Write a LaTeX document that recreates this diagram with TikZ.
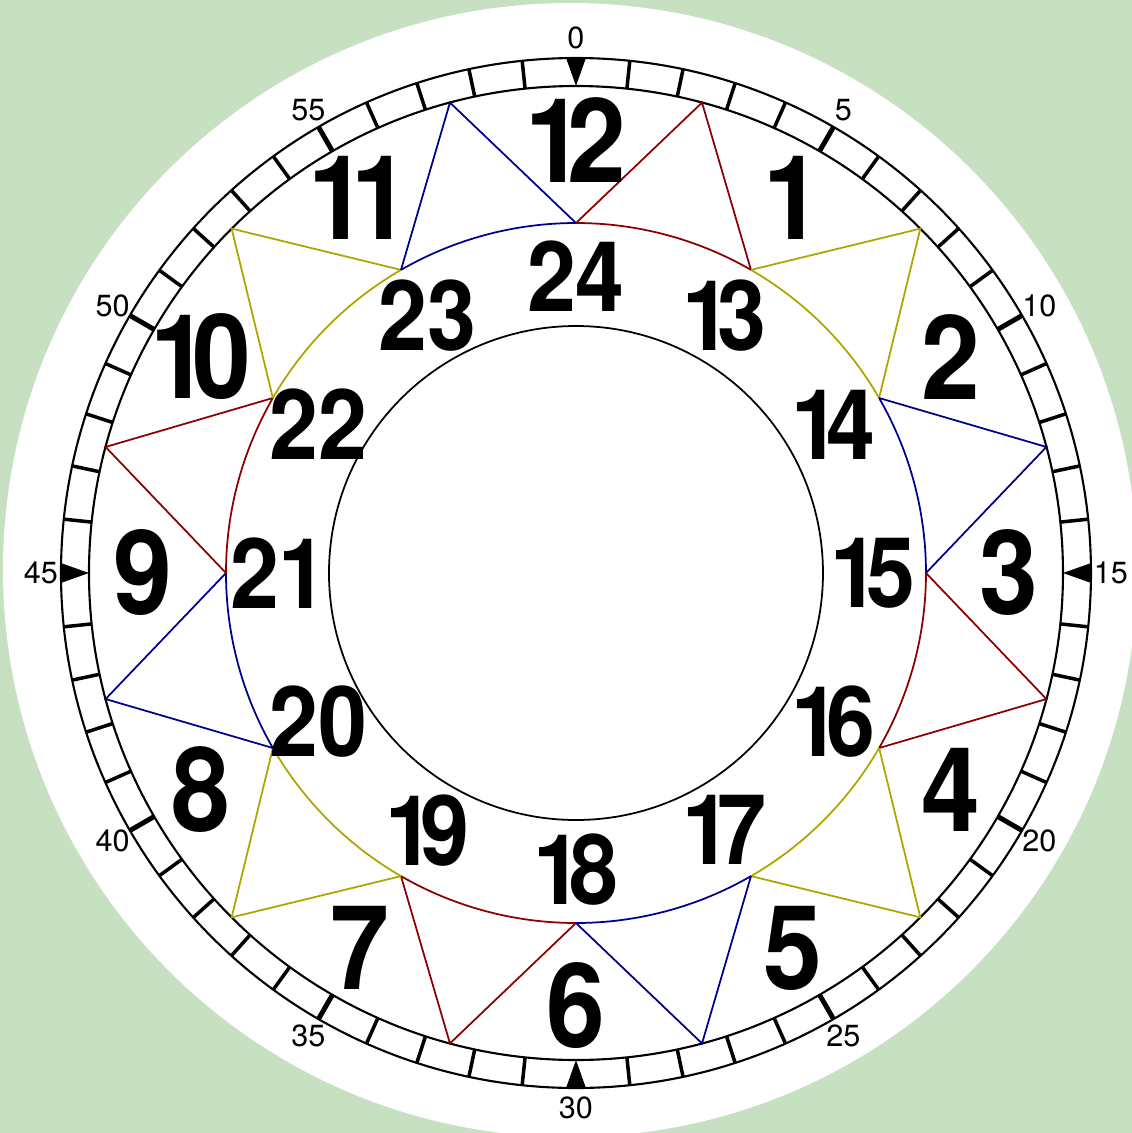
\documentclass[tikz,border=0pt]{standalone}
\usepackage{fontspec}
\setmainfont{TeX Gyre Heros}
\newfontfamily\numfont{TeX Gyre Heros}[FakeStretch=0.9]
\newcommand{\narrowone}{1\kern-0.14em}
\usetikzlibrary{calc}
\definecolor{cBack}{RGB}{198,224,193}
\definecolor{cStar0}{RGB}{140,0,0}
\definecolor{cStar1}{RGB}{175,165,0}
\definecolor{cStar2}{RGB}{0,0,140}
\tikzset{
	ring/.style     ={line width=0.6pt, draw=black},
	ticka/.style    ={line width=1.0pt},
	tickb/.style    ={line width=1.4pt},
	starline/.style ={line width=0.5pt},
	hournum/.style  ={font=\numfont\fontsize{33.4}{34}\selectfont\bfseries, inner sep=0pt},
	innernum/.style ={font=\numfont\fontsize{27.8}{28}\selectfont\bfseries, inner sep=0pt},
	minnum/.style   ={font=\fontsize{8.7}{9}\selectfont, inner sep=0pt},
}
\begin{document}
\begin{tikzpicture}
	\useasboundingbox (-5.76,-5.60) rectangle (5.56,5.73);
	\fill[cBack] (-5.76,-5.60) rectangle (5.56,5.73);
	\fill[white] (-0.06,0.03) circle (5.67);
	% minute ring
	\draw[ring] (0,0) circle (5.15) (0,0) circle (4.87);
	\foreach \m in {0,...,59}{
		\pgfmathtruncatemacro{\q}{mod(\m,15)}
		\pgfmathtruncatemacro{\f}{mod(\m,5)}
		\ifnum\q=0
			\fill ({90-6*\m+1.1}:5.15) -- ({90-6*\m-1.1}:5.15) -- ({90-6*\m}:4.87) -- cycle;
		\else\ifnum\f=0
			\draw[tickb] ({90-6*\m}:4.87) -- ({90-6*\m}:5.15);
		\else
			\draw[ticka] ({90-6*\m}:4.87) -- ({90-6*\m}:5.15);
		\fi\fi
	}
	\foreach \m in {0,5,...,55}
		\node[minnum] (m\m) at ({90-6*\m}:5.35) {\m};
	% star
	\foreach \k in {0,...,11}{
		\coordinate (in\k) at ({90-30*\k}:3.5);
		\coordinate (out\k) at ({75-30*\k}:4.87);
	}
	\foreach \k [evaluate=\k as \c using {int(mod(\k,3))}, evaluate=\k as \n using {int(mod(\k+1,12))}] in {0,...,11}{
		\draw[starline, cStar\c] (in\k) -- (out\k) -- (in\n);
		\draw[starline, cStar\c] (in\k) arc[start angle={90-30*\k}, end angle={60-30*\k}, radius=3.5];
	}
	\draw[ring, line width=0.5pt] (0,0) circle (2.47);
	% numbers
	\foreach \h/\t in {1/1,2/2,3/3,4/4,5/5,6/6,7/7,8/8,9/9,10/\narrowone0,11/\narrowone1,12/\narrowone2}
		\node[hournum] (h\h) at ({90-30*\h}:4.33) {\t};
	\foreach \h/\t in {1/\narrowone3,2/\narrowone4,3/\narrowone5,4/\narrowone6,5/\narrowone7,6/\narrowone8,7/\narrowone9,8/20,9/21,10/22,11/23,12/24}
		\node[innernum] (i\h) at ({90-30*\h}:2.97) {\t};
\end{tikzpicture}
\end{document}
